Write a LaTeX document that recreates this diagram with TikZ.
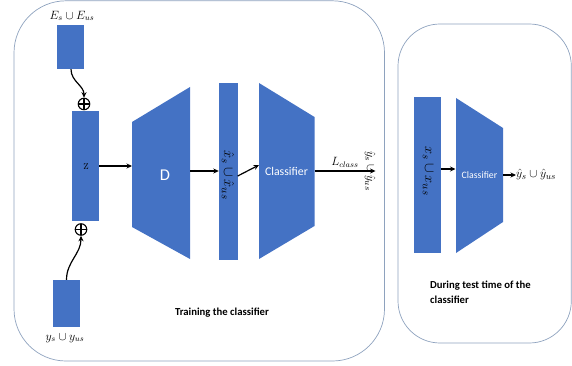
\documentclass[tikz,border=0pt]{standalone}
\usepackage{fontspec}
\setsansfont{Carlito}
\usetikzlibrary{arrows.meta}
\definecolor{myblue}{HTML}{4472C4}
\definecolor{frame}{HTML}{8EA2BE}
\tikzset{
  blk/.style={fill=myblue, draw=none, inner sep=0pt},
  panel/.style={draw=frame, line width=0.7pt},
  conn/.style={line width=1.2pt, -{Stealth[length=5.5pt,width=5pt]}},
  oplus/.style={circle, draw, line width=1.1pt, minimum size=11.5pt, inner sep=0pt,
    path picture={\draw[line width=1.1pt] (path picture bounding box.north) -- (path picture bounding box.south)
      (path picture bounding box.west) -- (path picture bounding box.east);}},
  mlab/.style={inner sep=0pt, font=\fontsize{11.5}{13}\selectfont},
  wlab/.style={text=white, inner sep=0pt, font=\sffamily},
  captxt/.style={inner sep=0pt, font=\sffamily\bfseries\fontsize{10.7}{15}\selectfont, align=left}
}
\begin{document}
\begin{tikzpicture}[x=1pt, y=-1pt]
\useasboundingbox (0,0) rectangle (572,366);
% panels
\draw[panel, rounded corners=52pt] (14,0.8) rectangle (384.5,361);
\draw[panel, rounded corners=42pt] (398,24) rectangle (571.3,343);

% left inputs
\node[blk, minimum width=27, minimum height=44] (E) at (70.5,47) {};
\node[mlab] (Elab) at (72,16) {$E_s \cup E_{us}$};
\node[oplus] (opT) at (84,104) {};
\node[blk, minimum width=27, minimum height=110] (Z) at (85.5,166) {};
\node[inner sep=0pt, font=\fontsize{8.5}{10}\selectfont] (Zlab) at (86,167) {Z};
\node[oplus] (opB) at (81,229.5) {};
\node[blk, minimum width=27, minimum height=47] (Y) at (66.5,303.5) {};
\node[mlab] (Ylab) at (65,338) {$y_s \cup y_{us}$};

\draw[conn] ([xshift=0.5pt]E.south) to[out=-90, in=90] (opT.north);
\draw[conn] (Y.north) to[out=90, in=-90] (opB.south);

% decoder D
\fill[myblue] (132,122) -- (190,87) -- (190,259) -- (132,227) -- cycle;
\coordinate (Din) at (132,166);
\coordinate (Dout) at (190,171);
\node[wlab, font=\sffamily\fontsize{16.5}{18}\selectfont] (Dlab) at (165,175) {D};
\draw[conn] (Z.east |- Din) -- (Din);

% x-hat bar
\node[blk, minimum width=18.5, minimum height=177] (Xh) at (228.25,171.5) {};
\node[inner sep=0pt, rotate=-90, font=\fontsize{15}{17}\selectfont] (Xhlab) at (228,175) {$\hat{x}_s \cup \hat{x}_{us}$};
\draw[conn] (Dout) -- (Dout -| Xh.west);

% classifier (training)
\fill[myblue] (259,83) -- (314.5,117) -- (314.5,226) -- (259,259) -- cycle;
\coordinate (Cin) at (259,165);
\coordinate (Cout) at (314.5,171);
\node[wlab, font=\sffamily\fontsize{11.8}{13}\selectfont] (Clab) at (286.5,171) {Classifier};
\draw[conn] ([yshift=-4.5pt]Xh.east) -- (Cin);

\node[inner sep=0pt, rotate=-90, font=\fontsize{12.5}{14}\selectfont] (Yh) at (370,171) {$\hat{y}_s \cup \hat{y}_{us}$};
\draw[conn] (Cout) -- (Cout -| Yh.north) node[midway, above=3pt, font=\fontsize{12}{14}\selectfont, inner sep=0pt] (Lc) {$L_{class}$};

\node[captxt] (train) at (222,313) {Training the classifier};

% test panel
\node[blk, minimum width=27, minimum height=156] (Xt) at (427.5,175) {};
\node[inner sep=0pt, rotate=-90, font=\fontsize{15}{17}\selectfont] (Xtlab) at (428,171) {$x_s \cup x_{us}$};
\fill[myblue] (456,98) -- (503,128) -- (503,222) -- (456,253) -- cycle;
\coordinate (Tin) at (455.5,169);
\coordinate (Tout) at (503,175);
\node[wlab, font=\sffamily\fontsize{9.8}{11}\selectfont] (Tlab) at (479.5,175) {Classifier};
\draw[conn] (Xt.east |- Tin) -- (Tin);
\node[inner sep=0pt, anchor=west, font=\fontsize{12.5}{14}\selectfont] (Yt) at (516,175) {$\hat{y}_s \cup \hat{y}_{us}$};
\draw[conn] (Tout) -- (Yt.west);

\node[captxt, anchor=north west] (test) at (430,281) {During test time of the\\classifier};
\end{tikzpicture}
\end{document}
